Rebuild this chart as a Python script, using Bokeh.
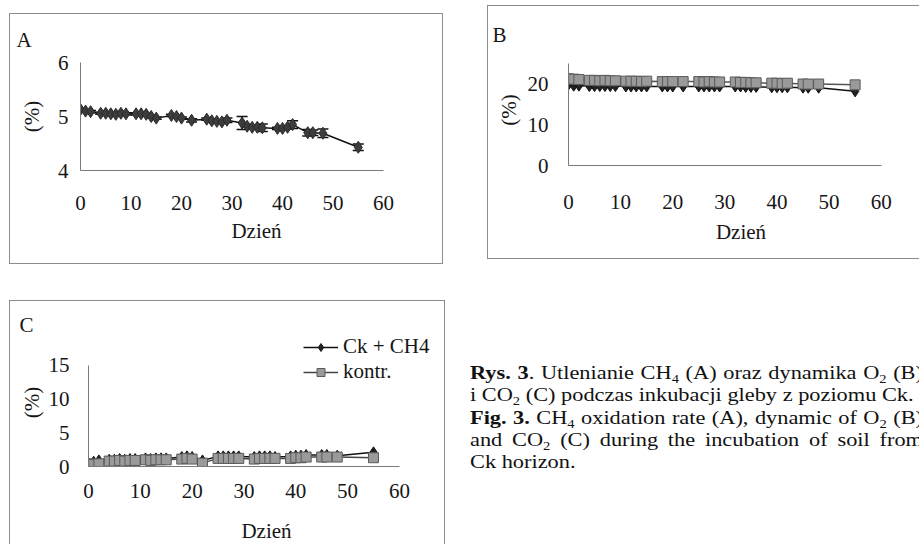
from bokeh.plotting import figure
from bokeh.layouts import row, column
from bokeh.models import (Div, Range1d, FixedTicker, Legend, LegendItem, Whisker,
                          ColumnDataSource, TeeHead)
from bokeh.embed import file_html
from bokeh.resources import INLINE

FONT = "Liberation Serif"
TXT = "#161616"

# ---------------- data ----------------
days = [0, 1, 2, 4, 5, 6, 7, 8, 9, 11, 12, 13, 14, 15, 18, 19, 20, 22, 25, 26, 27, 28, 29,
        32, 33, 34, 35, 36, 39, 40, 41, 42, 45, 46, 48, 55]

# Panel A: CH4 (%)
a_ch4 = [5.13, 5.10, 5.09, 5.06, 5.06, 5.05, 5.04, 5.06, 5.05, 5.05, 5.05, 5.04, 5.00, 4.97,
         5.02, 5.00, 4.97, 4.93, 4.95, 4.92, 4.91, 4.90, 4.93, 4.88, 4.82, 4.80, 4.80, 4.79,
         4.78, 4.78, 4.80, 4.85, 4.70, 4.70, 4.69, 4.43]
a_err = [0.01, 0.02, 0.02, 0.02, 0.02, 0.02, 0.02, 0.02, 0.02, 0.02, 0.02, 0.02, 0.02, 0.02,
         0.02, 0.02, 0.02, 0.03, 0.02, 0.02, 0.02, 0.02, 0.04, 0.12, 0.02, 0.03, 0.03, 0.07,
         0.02, 0.02, 0.03, 0.07, 0.06, 0.05, 0.08, 0.06]

# Panel B: O2 (%)
b_ck = [19.9, 19.6, 19.6, 19.5, 19.5, 19.5, 19.5, 19.5, 19.5, 19.4, 19.4, 19.4, 19.4, 19.4,
        19.4, 19.4, 19.4, 19.4, 19.4, 19.4, 19.4, 19.4, 19.4, 19.4, 19.4, 19.3, 19.3, 19.3,
        19.2, 19.2, 19.2, 19.2, 19.1, 19.1, 19.1, 18.2]
b_kontr = [21.3, 21.2, 21.1, 20.9, 20.9, 20.8, 20.9, 20.8, 20.8, 20.7, 20.7, 20.7, 20.6, 20.7,
           20.6, 20.6, 20.6, 20.6, 20.6, 20.5, 20.6, 20.5, 20.5, 20.5, 20.4, 20.4, 20.3, 20.3,
           20.2, 20.2, 20.1, 20.2, 20.0, 20.0, 20.0, 19.8]

# Panel C: CO2 (%)
c_ck = [0.5, 0.7, 0.9, 1.0, 1.0, 1.1, 1.0, 1.1, 1.1, 1.2, 1.1, 1.2, 1.2, 1.2, 1.4, 1.5, 1.4,
        0.9, 1.5, 1.5, 1.5, 1.5, 1.5, 1.4, 1.5, 1.5, 1.5, 1.4, 1.5, 1.6, 1.6, 1.7, 1.7, 1.7,
        1.6, 2.1]
c_kontr = [0.4, 0.3, 0.4, 0.8, 0.8, 0.9, 0.8, 0.9, 0.9, 1.0, 0.9, 1.0, 1.0, 1.0, 1.1, 1.2,
           1.1, 0.5, 1.2, 1.2, 1.2, 1.2, 1.2, 1.1, 1.2, 1.2, 1.2, 1.2, 1.2, 1.3, 1.3, 1.4,
           1.4, 1.4, 1.4, 1.3]

x_ticks = [0, 10, 20, 30, 40, 50, 60]
x_bounds = (0, 60)
a_yticks = [4, 5, 6]
b_yticks = [0, 10, 20]
c_yticks = [0, 5, 10, 15]
x_title = "Dzień"
y_title = "(%)"
series_names = ["Ck + CH4", "kontr."]
FS = "21px"


def panel(w, h, ml, mr, mt, mb, xend, yr, ybounds, yticks, xstand, xlstand, ystand, ylstand,
          styles, margin, letter, toff, tstand):
    p = figure(width=w, height=h, x_range=Range1d(0, xend), y_range=Range1d(*yr),
               output_backend="svg", toolbar_location=None, title=letter,
               min_border_left=ml, min_border_right=mr, min_border_top=mt,
               min_border_bottom=mb)
    p.title.text_font = FONT
    p.title.text_font_size = FS
    p.title.text_font_style = "normal"
    p.title.text_color = TXT
    p.title.align = "left"
    p.title.vertical_align = "top"
    p.title.offset = toff
    p.title.standoff = tstand
    p.outline_line_color = None
    p.grid.visible = False
    p.background_fill_color = "white"
    p.border_fill_color = "white"
    p.xaxis.ticker = FixedTicker(ticks=x_ticks)
    p.yaxis.ticker = FixedTicker(ticks=yticks)
    p.xaxis.bounds = x_bounds
    p.yaxis.bounds = ybounds
    for ax in (p.xaxis[0], p.yaxis[0]):
        ax.axis_line_color = "#7a7a7a"
        ax.axis_line_width = 1
        ax.major_tick_line_color = None
        ax.minor_tick_line_color = None
        ax.major_tick_out = 0
        ax.major_tick_in = 0
        ax.major_label_text_font = FONT
        ax.major_label_text_font_size = FS
        ax.major_label_text_color = TXT
        ax.axis_label_text_font = FONT
        ax.axis_label_text_font_size = FS
        ax.axis_label_text_font_style = "normal"
        ax.axis_label_text_color = TXT
    p.xaxis.axis_label = x_title
    p.yaxis.axis_label = y_title
    p.xaxis.major_label_standoff = xstand
    p.xaxis.axis_label_standoff = xlstand
    p.yaxis.major_label_standoff = ystand
    p.yaxis.axis_label_standoff = ylstand
    p.styles = styles
    p.margin = margin
    return p


border = "1px solid #8c8c8c"

# ---------------- Panel A ----------------
pa = panel(434, 251, 70, 12, 48, 95, 69.7, (4, 6), (4, 6), a_yticks, 25, 6, 12, 11,
           {"border": border, "box-sizing": "border-box"}, (13, 0, 0, 9), "A", -64, 18)
src_a = ColumnDataSource(dict(x=days, y=a_ch4,
                              lo=[v - e for v, e in zip(a_ch4, a_err)],
                              hi=[v + e for v, e in zip(a_ch4, a_err)]))
pa.line("x", "y", source=src_a, line_color="#111111", line_width=1.5)
pa.add_layout(Whisker(base="x", upper="hi", lower="lo", source=src_a,
                      line_color="#111111", line_width=1.5,
                      upper_head=TeeHead(size=11, line_color="#111111", line_width=1.5),
                      lower_head=TeeHead(size=11, line_color="#111111", line_width=1.5)))
pa.scatter("x", "y", source=src_a, marker="diamond", size=12, fill_color="#3c3c3c",
           line_color="#2a2a2a")

# ---------------- Panel B ----------------
pb = panel(432, 254, 80, 7, 48, 95, 66.2, (0, 27.25), (0, 25), b_yticks, 29, 8, 20, 4,
           {"border-top": border, "border-left": border, "border-bottom": border,
            "box-sizing": "border-box"}, (5, 0, 0, 44), "B", -76, 12)
pb.line(days, b_ck, line_color="#111111", line_width=1.5)
pb.scatter(days, b_ck, marker="diamond", size=11, fill_color="#222222", line_color="#111111")
pb.line(days, b_kontr, line_color="#555555", line_width=1.5)
pb.scatter(days, b_kontr, marker="square", size=10, fill_color="#9a9a9a", line_color="#5a5a5a")

# ---------------- Panel C ----------------
pc = panel(436, 244, 78, 2, 37, 78, 68.7, (0, 18.97), (0, 15), c_yticks, 17, 18, 19, 2,
           {"border-top": border, "border-left": border, "border-right": border,
            "box-sizing": "border-box"}, (36, 0, 0, 9), "C", -69, 0)
l1 = pc.line(days, c_ck, line_color="#111111", line_width=1.5)
s1 = pc.scatter(days, c_ck, marker="diamond", size=11, fill_color="#222222",
                line_color="#111111")
l2 = pc.line(days, c_kontr, line_color="#444444", line_width=1.5)
s2 = pc.scatter(days, c_kontr, marker="square", size=10, fill_color="#9a9a9a",
                line_color="#5a5a5a")
leg = Legend(items=[LegendItem(label=series_names[0], renderers=[l1, s1]),
                    LegendItem(label=series_names[1], renderers=[l2, s2])],
             location=(215, 82))
leg.border_line_color = None
leg.background_fill_alpha = 0
leg.padding = 0
leg.margin = 0
leg.spacing = 0
leg.label_height = 20
leg.glyph_height = 20
leg.glyph_width = 35
leg.label_standoff = 5
leg.label_text_font = FONT
leg.label_text_font_size = FS
leg.label_text_color = TXT
pc.add_layout(leg)

# ---------------- caption ----------------
sub = "<sub style='font-size:0.65em;line-height:0;vertical-align:-0.3em'>%s</sub>"
J = "text-align:justify;text-align-last:justify;width:375px"
cap = (
    "<div style=\"font-family:'Liberation Serif';font-size:18.5px;line-height:22.3px;"
    "color:#111;white-space:nowrap;transform:scaleX(1.208);transform-origin:0 0;width:375px\">"
    "<div style='" + J + "'><b>Rys. 3</b>. Utlenianie CH" + sub % "4" + " (A) oraz dynamika O"
    + sub % "2" + " (B)</div>"
    "<div>i CO" + sub % "2" + " (C) podczas inkubacji gleby z poziomu Ck.</div>"
    "<div style='" + J + "'><b>Fig. 3.</b> CH" + sub % "4" + " oxidation rate (A), dynamic of O"
    + sub % "2" + " (B)</div>"
    "<div style='" + J + "'>and CO" + sub % "2" + " (C) during the incubation of soil from</div>"
    "<div>Ck horizon.</div>"
    "</div>"
)
caption = Div(text=cap, width=449, height=130, margin=(98, 0, 0, 25),
              styles={"overflow": "hidden"})

layout = column(row(pa, pb), row(pc, caption))

open("out.html", "w").write(file_html(layout, INLINE))
